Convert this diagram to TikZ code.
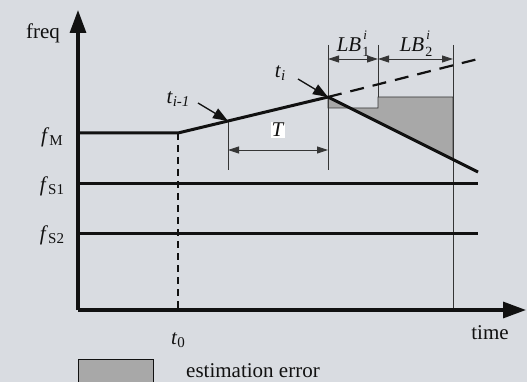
\documentclass[tikz,border=0pt]{standalone}
\usepackage{fontspec}
\setmainfont{Liberation Serif}
\usetikzlibrary{arrows.meta}
\definecolor{bg}{HTML}{D9DCE1}
\definecolor{errgray}{HTML}{A8A8A8}
\definecolor{ink}{HTML}{111111}
\newcommand\lsub[1]{\raisebox{-0.15em}{\fontsize{15}{15}\selectfont #1}}
\newcommand\lsubb[1]{\raisebox{-0.25em}{\fontsize{14}{14}\selectfont #1}}
\newcommand\lsup[1]{\raisebox{0.55em}{\fontsize{13}{13}\selectfont #1}}
\newcommand\lsubsup[2]{\kern1pt\rlap{\kern1pt\lsup{#2}}\lsubb{#1}}
\begin{document}
\begin{tikzpicture}[x=1pt,y=-1pt,
  axis/.style={line width=3.2pt, draw=ink, -{Triangle[length=23pt,width=16pt]}},
  thickline/.style={line width=3pt, draw=ink},
  thinline/.style={line width=0.9pt, draw=ink!85},
  dim/.style={thinline, {Triangle[length=11pt,width=7pt]}-{Triangle[length=11pt,width=7pt]}},
  pointer/.style={line width=1.3pt, draw=ink, -{Triangle[length=15pt,width=11pt]}},
  lbl/.style={font=\fontsize{21}{24}\selectfont, inner sep=0pt, text=ink}]
\useasboundingbox (0,0) rectangle (527,382);
\fill[bg] (0,0) rectangle (527,382);
% key points
\coordinate (O) at (78,310);
\coordinate (Ytop) at (78,10);
\coordinate (Xend) at (526,310);
\coordinate (fM0) at (78,133);
\coordinate (t0top) at (178,133);
\coordinate (t0bot) at (178,310);
\coordinate (Pim1) at (228,121);
\coordinate (Pi) at (328,97);
\coordinate (dashEnd) at (478,59);
\coordinate (fallEnd) at (478,172);
% estimation error region
\filldraw[fill=errgray, draw=ink!85, line width=0.9pt]
  (328,97) -- (328,108) -- (378,108) -- (378,97) -- (453,97) -- (453,159.5) -- cycle;
% thin verticals
\draw[thinline] (Pim1) -- (228,170);
\draw[thinline] (328,45) -- (328,170);
\draw[thinline] (378,45) -- (378,97);
\draw[thinline] (453,45) -- (453,310);
% dimension arrows
\coordinate (Ta) at (228,150); \coordinate (Tb) at (328,150);
\draw[dim] (Ta) -- (Tb);
\coordinate (L1a) at (328,59); \coordinate (L1b) at (378,59); \coordinate (L2b) at (453,59);
\draw[dim] (L1a) -- (L1b);
\draw[dim] (L1b) -- (L2b);
% frequency lines
\draw[thickline] (fM0) -- (t0top) -- (Pi);
\draw[thickline] (Pi) -- (fallEnd);
\draw[ink, line width=2.2pt, dash pattern=on 14pt off 9pt] (Pi) -- (dashEnd);
\draw[thickline] (78,184) -- (478,184);
\draw[thickline] (78,233) -- (478,233);
\draw[ink, line width=1.1pt, dash pattern=on 7pt off 5pt] (t0top) -- (t0bot);
% axes
\draw[axis] (O) -- (Ytop);
\draw[axis] (O) -- (Xend);
% labels
\node[lbl] (freq) at (43,33) {freq};
\node[lbl] (fM) at (52,137) {\textit{f}\lsub{M}};
\node[lbl] (fS1) at (52,186) {\textit{f}\lsub{S1}};
\node[lbl] (fS2) at (52,235) {\textit{f}\lsub{S2}};
\node[lbl] (t0) at (178,340) {\textit{t}\lsub{0}};
\node[lbl] (time) at (490,333) {time};
\node[lbl] (tim1) at (178,99) {\textit{t}\lsub{\textit{i-1}}};
\node[lbl] (ti) at (280,73) {\textit{t}\lsub{\textit{i}}};
\node[lbl, fill=white, inner sep=1pt] (T) at (278,130) {\textit{T}};
\node[lbl] (lb1) at (353,44) {\textit{LB}\lsubsup{1}{\textit{i}}};
\node[lbl] (lb2) at (416,44) {\textit{LB}\lsubsup{2}{\textit{i}}};
% pointers
\coordinate (pim1) at (198,103);
\coordinate (pi) at (298,79);
\draw[pointer] (pim1) -- (Pim1);
\draw[pointer] (pi) -- (Pi);
% legend
\filldraw[fill=errgray, draw=ink, line width=1pt] (78,359) rectangle (153,395);
\node[lbl, anchor=west] (legtext) at (186,371) {estimation error};
\end{tikzpicture}
\end{document}
